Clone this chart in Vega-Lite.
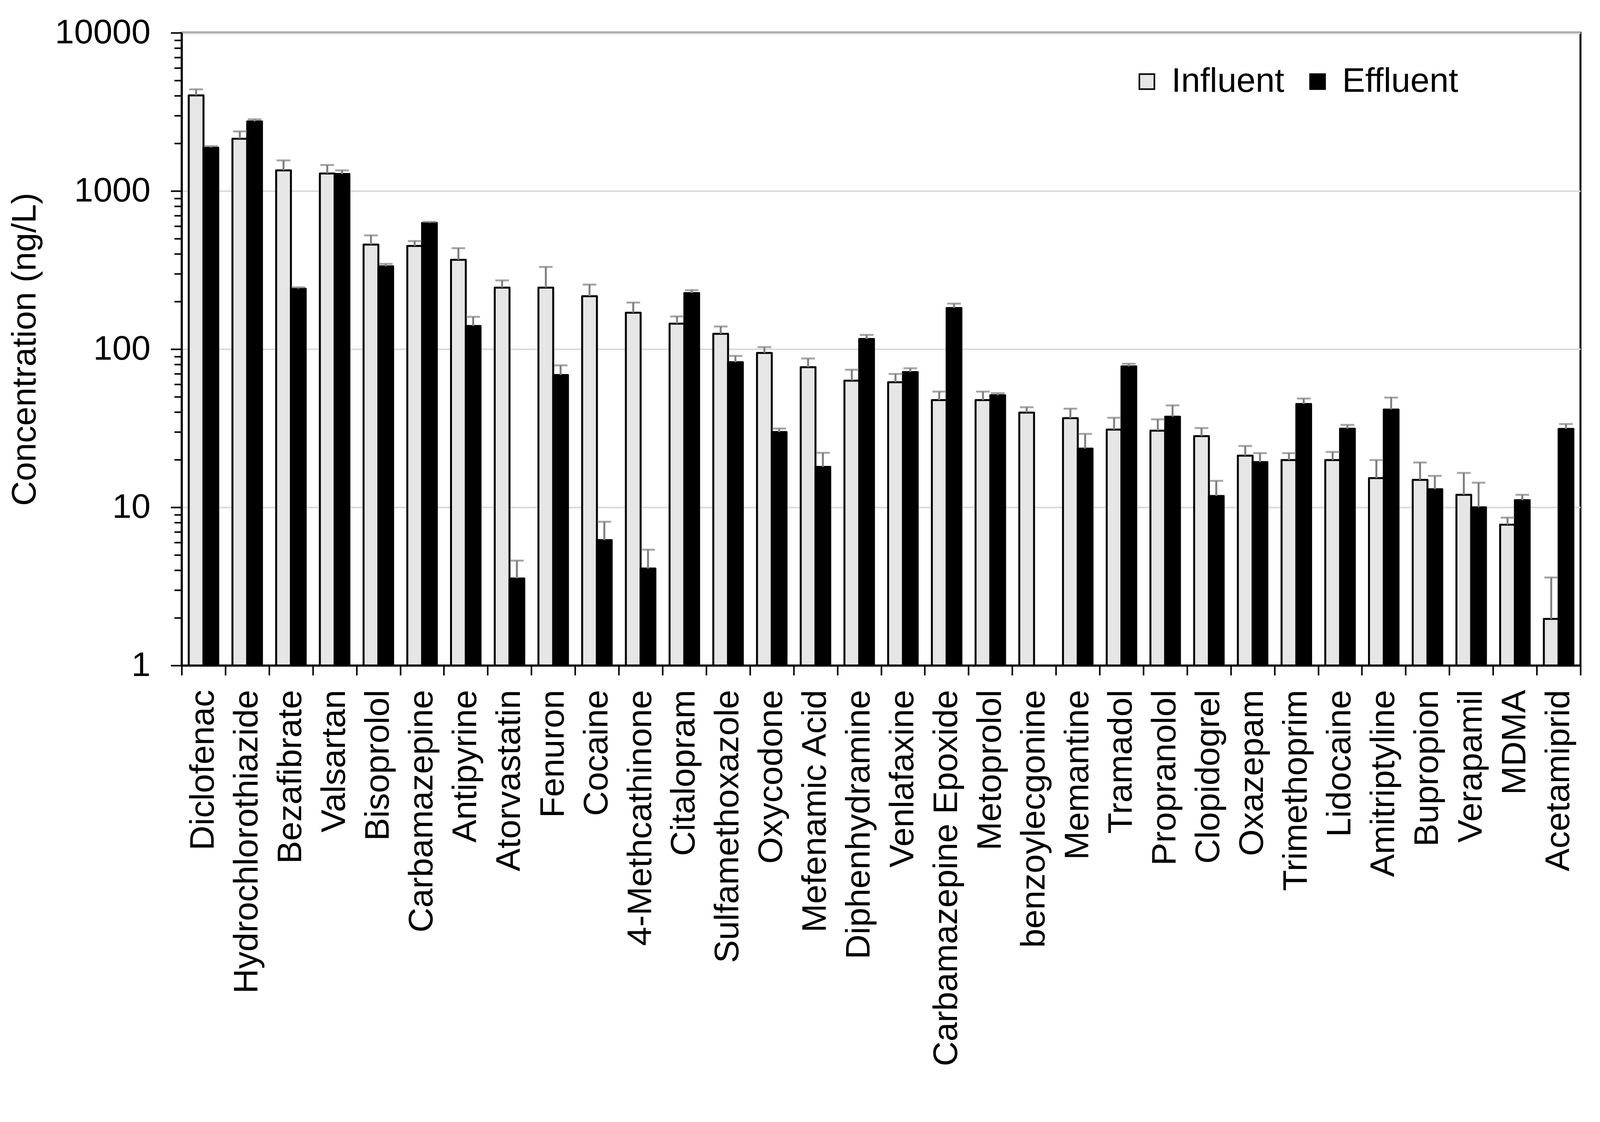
{
  "$schema": "https://vega.github.io/schema/vega-lite/v6.json",
  "width": 3581,
  "height": 1620,
  "autosize": {"type": "none"},
  "padding": {"left": 465, "top": 84, "right": 208, "bottom": 1169},
  "background": "white",
  "config": {
    "font": "Liberation Sans",
    "view": {"stroke": "black", "strokeWidth": 5},
    "axis": {"labelColor": "black", "titleColor": "black", "labelFont": "Liberation Sans", "titleFont": "Liberation Sans"}
  },
  "data": {"values": [
    {"c": "Diclofenac", "t": "Influent", "v": 4020, "hi": 4390},
    {"c": "Diclofenac", "t": "Effluent", "v": 1880, "hi": 1920},
    {"c": "Hydrochlorothiazide", "t": "Influent", "v": 2140, "hi": 2380},
    {"c": "Hydrochlorothiazide", "t": "Effluent", "v": 2750, "hi": 2840},
    {"c": "Bezafibrate", "t": "Influent", "v": 1350, "hi": 1560},
    {"c": "Bezafibrate", "t": "Effluent", "v": 241, "hi": 246},
    {"c": "Valsartan", "t": "Influent", "v": 1290, "hi": 1460},
    {"c": "Valsartan", "t": "Effluent", "v": 1280, "hi": 1350},
    {"c": "Bisoprolol", "t": "Influent", "v": 458, "hi": 524},
    {"c": "Bisoprolol", "t": "Effluent", "v": 334, "hi": 346},
    {"c": "Carbamazepine", "t": "Influent", "v": 449, "hi": 482},
    {"c": "Carbamazepine", "t": "Effluent", "v": 627, "hi": 637},
    {"c": "Antipyrine", "t": "Influent", "v": 367, "hi": 435},
    {"c": "Antipyrine", "t": "Effluent", "v": 140, "hi": 160},
    {"c": "Atorvastatin", "t": "Influent", "v": 245, "hi": 272},
    {"c": "Atorvastatin", "t": "Effluent", "v": 3.55, "hi": 4.6},
    {"c": "Fenuron", "t": "Influent", "v": 245, "hi": 331},
    {"c": "Fenuron", "t": "Effluent", "v": 68.6, "hi": 79},
    {"c": "Cocaine", "t": "Influent", "v": 216, "hi": 256},
    {"c": "Cocaine", "t": "Effluent", "v": 6.2, "hi": 8.1},
    {"c": "4-Methcathinone", "t": "Influent", "v": 170, "hi": 197},
    {"c": "4-Methcathinone", "t": "Effluent", "v": 4.1, "hi": 5.4},
    {"c": "Citalopram", "t": "Influent", "v": 145, "hi": 161},
    {"c": "Citalopram", "t": "Effluent", "v": 226, "hi": 236},
    {"c": "Sulfamethoxazole", "t": "Influent", "v": 125, "hi": 139},
    {"c": "Sulfamethoxazole", "t": "Effluent", "v": 82.6, "hi": 90.6},
    {"c": "Oxycodone", "t": "Influent", "v": 94.6, "hi": 103},
    {"c": "Oxycodone", "t": "Effluent", "v": 29.9, "hi": 31.5},
    {"c": "Mefenamic Acid", "t": "Influent", "v": 76.9, "hi": 87.3},
    {"c": "Mefenamic Acid", "t": "Effluent", "v": 18.0, "hi": 22.1},
    {"c": "Diphenhydramine", "t": "Influent", "v": 63.2, "hi": 74.1},
    {"c": "Diphenhydramine", "t": "Effluent", "v": 116, "hi": 123},
    {"c": "Venlafaxine", "t": "Influent", "v": 61.8, "hi": 69.7},
    {"c": "Venlafaxine", "t": "Effluent", "v": 71.6, "hi": 75.7},
    {"c": "Carbamazepine Epoxide", "t": "Influent", "v": 47.6, "hi": 53.9},
    {"c": "Carbamazepine Epoxide", "t": "Effluent", "v": 182, "hi": 194},
    {"c": "Metoprolol", "t": "Influent", "v": 47.6, "hi": 53.9},
    {"c": "Metoprolol", "t": "Effluent", "v": 51.1, "hi": 52.7},
    {"c": "benzoylecgonine", "t": "Influent", "v": 39.7, "hi": 42.9},
    {"c": "Memantine", "t": "Influent", "v": 36.6, "hi": 42},
    {"c": "Memantine", "t": "Effluent", "v": 23.5, "hi": 29.1},
    {"c": "Tramadol", "t": "Influent", "v": 31.0, "hi": 36.8},
    {"c": "Tramadol", "t": "Effluent", "v": 77.8, "hi": 80.8},
    {"c": "Propranolol", "t": "Influent", "v": 30.5, "hi": 36},
    {"c": "Propranolol", "t": "Effluent", "v": 37.4, "hi": 44.1},
    {"c": "Clopidogrel", "t": "Influent", "v": 28.2, "hi": 31.7},
    {"c": "Clopidogrel", "t": "Effluent", "v": 11.8, "hi": 14.7},
    {"c": "Oxazepam", "t": "Influent", "v": 21.2, "hi": 24.4},
    {"c": "Oxazepam", "t": "Effluent", "v": 19.3, "hi": 22.0},
    {"c": "Trimethoprim", "t": "Influent", "v": 19.9, "hi": 22.0},
    {"c": "Trimethoprim", "t": "Effluent", "v": 45.0, "hi": 48.7},
    {"c": "Lidocaine", "t": "Influent", "v": 19.9, "hi": 22.4},
    {"c": "Lidocaine", "t": "Effluent", "v": 31.4, "hi": 33.2},
    {"c": "Amitriptyline", "t": "Influent", "v": 15.3, "hi": 19.9},
    {"c": "Amitriptyline", "t": "Effluent", "v": 41.5, "hi": 49.4},
    {"c": "Bupropion", "t": "Influent", "v": 14.9, "hi": 19.2},
    {"c": "Bupropion", "t": "Effluent", "v": 13.0, "hi": 15.8},
    {"c": "Verapamil", "t": "Influent", "v": 12.0, "hi": 16.5},
    {"c": "Verapamil", "t": "Effluent", "v": 10.0, "hi": 14.3},
    {"c": "MDMA", "t": "Influent", "v": 7.76, "hi": 8.6},
    {"c": "MDMA", "t": "Effluent", "v": 11.1, "hi": 12.0},
    {"c": "Acetamiprid", "t": "Influent", "v": 1.97, "hi": 3.6},
    {"c": "Acetamiprid", "t": "Effluent", "v": 31.3, "hi": 33.6}
  ]},
  "encoding": {
    "x": {
      "field": "c", "type": "nominal", "sort": null,
      "scale": {"paddingInner": 0, "paddingOuter": 0},
      "axis": {
        "title": null, "tickBand": "extent", "labelAngle": 270, "labelAlign": "right", "labelBaseline": "middle",
        "labelFontSize": 88, "labelPadding": 37, "tickSize": 25, "tickWidth": 4, "tickColor": "black",
        "domainColor": "black", "domainWidth": 5, "grid": false, "labelLimit": 2000, "maxExtent": 2000
      }
    },
    "xOffset": {"field": "t", "type": "nominal", "sort": ["Influent", "Effluent"], "scale": {"paddingOuter": 0.48, "paddingInner": 0}}
  },
  "layer": [
    {
      "mark": {"type": "bar", "stroke": "black", "strokeWidth": 5, "strokeJoin": "round"},
      "encoding": {
        "y": {
          "field": "v", "type": "quantitative",
          "scale": {"type": "log", "domain": [1, 10000], "nice": false},
          "axis": {
            "title": "Concentration (ng/L)", "titleFontSize": 88, "titleFontWeight": "normal", "titlePadding": 32,
            "values": [1, 10, 100, 1000, 10000], "format": "d", "labelFontSize": 88, "labelPadding": 52, "labelLimit": 1000,
            "maxExtent": 1000, "minExtent": 0,
            "tickSize": 28, "tickWidth": 4, "tickColor": "black", "domainColor": "black", "domainWidth": 5,
            "grid": true, "gridColor": "#d9d9d9", "gridWidth": 4, "labelOverlap": false
          }
        },
        "y2": {"datum": 1},
        "color": {
          "field": "t", "type": "nominal",
          "scale": {"domain": ["Influent", "Effluent"], "range": ["#e6e6e6", "#000000"]},
          "legend": {
            "title": null, "orient": "none", "legendX": 2427, "legendY": 81, "direction": "horizontal",
            "symbolType": "square", "symbolSize": 1480, "symbolStrokeColor": "black", "symbolStrokeWidth": 4,
            "labelFontSize": 88, "labelOffset": 19, "columnPadding": 41, "labelColor": "black", "labelFont": "Liberation Sans", "labelLimit": 1000
          }
        }
      }
    },
    {
      "mark": {"type": "rule", "color": "#7f7f7f", "strokeWidth": 5},
      "encoding": {
        "y": {"field": "v", "type": "quantitative", "axis": null},
        "y2": {"field": "hi"}
      }
    },
    {
      "mark": {"type": "tick", "color": "#7f7f7f", "thickness": 5, "size": 35, "orient": "horizontal"},
      "encoding": {
        "y": {
          "field": "hi", "type": "quantitative",
          "axis": {
            "orient": "left", "title": null, "labels": false, "domain": false, "grid": false,
            "values": [2,3,4,5,6,7,8,9,20,30,40,50,60,70,80,90,200,300,400,500,600,700,800,900,2000,3000,4000,5000,6000,7000,8000,9000],
            "tickSize": 19, "tickWidth": 4, "tickColor": "black"
          }
        }
      }
    }
  ],
  "resolve": {"axis": {"y": "independent"}}
}
